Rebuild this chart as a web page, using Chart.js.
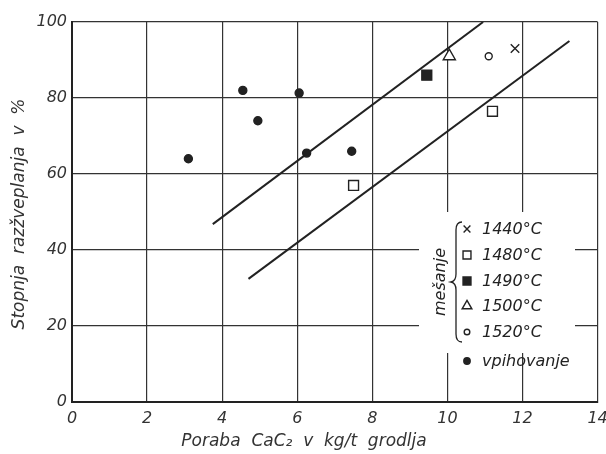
<!DOCTYPE html>
<html>
<head>
<meta charset="utf-8">
<script src="https://cdn.jsdelivr.net/npm/chart.js@4"></script>
<style>
  body { margin: 0; background: #fff; }
  #wrap { width: 606px; height: 454px; }
</style>
</head>
<body>
<div id="wrap"><canvas id="myChart" width="606" height="454"></canvas></div>
<script>
// meritve (x = poraba CaC2 kg/t, y = stopnja razzveplanja %)
var x1440 = [11.8];
var y1440 = [93];
var x1480 = [7.5, 11.2];
var y1480 = [57, 76.5];
var x1490 = [9.45];
var y1490 = [86];
var x1500 = [10.05];
var y1500 = [91];
var x1520 = [11.1];
var y1520 = [91];
var xVpih = [3.1, 4.55, 4.95, 6.05, 6.25, 7.45];
var yVpih = [64, 82, 74, 81.3, 65.5, 66];
// mejni premici
var xZgornja = [3.75, 10.95];
var yZgornja = [46.8, 100];
var xSpodnja = [4.7, 13.25];
var ySpodnja = [32.4, 95];

var xTicks = [0, 2, 4, 6, 8, 10, 12, 14];
var yTicks = [0, 20, 40, 60, 80, 100];

var legendaOznake = ['1440°C', '1480°C', '1490°C', '1500°C', '1520°C', 'vpihovanje'];

var ink = '#222';
var druzina = '"DejaVu Sans", sans-serif';
var pisava = 'italic 16px ' + druzina;
var pisavaNaslov = 'italic 17px ' + druzina;

function tocke(xs, ys) {
    var out = [];
    for (var i = 0; i < xs.length; i++) out.push({ x: xs[i], y: ys[i] });
    return out;
}

var sloge = [
    { style: 'crossRot', radius: 6, fill: false },
    { style: 'rect', radius: 7, fill: false },
    { style: 'rect', radius: 7, fill: true },
    { style: 'triangle', radius: 7, fill: false },
    { style: 'circle', radius: 3.5, fill: false },
    { style: 'circle', radius: 4, fill: true }
];

function tockovni(label, xs, ys, s) {
    return {
        label: label,
        data: tocke(xs, ys),
        pointStyle: s.style,
        pointRadius: s.radius,
        pointBorderWidth: 1.4,
        pointBorderColor: ink,
        pointBackgroundColor: s.fill ? ink : '#fff',
        showLine: false
    };
}

function premica(xs, ys) {
    return {
        data: tocke(xs, ys),
        showLine: true,
        borderColor: ink,
        borderWidth: 2,
        pointRadius: 0
    };
}

var legenda = {
    id: 'legenda',
    afterDraw: function(chart) {
        var ctx = chart.ctx;
        ctx.save();
        ctx.fillStyle = '#fff';
        ctx.fillRect(419, 212, 156, 141);
        ctx.fillRect(456, 352, 66, 24);

        var vrstice = [229, 255, 281, 306, 332, 361];
        for (var i = 0; i < vrstice.length; i++) {
            var s = sloge[i];
            ctx.strokeStyle = ink;
            ctx.fillStyle = s.fill ? ink : '#fff';
            ctx.lineWidth = 1.4;
            Chart.helpers.drawPoint(ctx, { pointStyle: s.style, radius: s.radius * 0.8, borderWidth: 1.4 }, 467, vrstice[i]);
            ctx.fillStyle = ink;
            ctx.font = pisava;
            ctx.textAlign = 'left';
            ctx.textBaseline = 'middle';
            ctx.fillText(legendaOznake[i], 482, vrstice[i] + 1);
        }

        // oklepaj
        ctx.strokeStyle = ink;
        ctx.lineWidth = 1.3;
        ctx.beginPath();
        ctx.moveTo(462, 222);
        ctx.quadraticCurveTo(456, 222, 456, 230);
        ctx.lineTo(456, 274);
        ctx.quadraticCurveTo(456, 281, 451, 282);
        ctx.quadraticCurveTo(456, 283, 456, 290);
        ctx.lineTo(456, 334);
        ctx.quadraticCurveTo(456, 342, 462, 342);
        ctx.stroke();

        ctx.save();
        ctx.translate(441, 282);
        ctx.rotate(-Math.PI / 2);
        ctx.fillStyle = ink;
        ctx.font = pisava;
        ctx.textAlign = 'center';
        ctx.textBaseline = 'middle';
        ctx.fillText('mešanje', 0, 0);
        ctx.restore();

        // naslova osi
        ctx.fillStyle = '#333';
        ctx.font = pisavaNaslov;
        ctx.textAlign = 'center';
        ctx.textBaseline = 'middle';
        ctx.fillText('Poraba  CaC₂  v  kg/t  grodlja', 304, 442);

        ctx.translate(20, 214);
        ctx.rotate(-Math.PI / 2);
        ctx.fillText('Stopnja  razžveplanja  v  %', 0, 0);
        ctx.restore();
    }
};

var ctx = document.getElementById('myChart').getContext('2d');
var chart = new Chart(ctx, {
    type: 'scatter',
    data: {
        datasets: [
            tockovni('1440°C', x1440, y1440, sloge[0]),
            tockovni('1480°C', x1480, y1480, sloge[1]),
            tockovni('1490°C', x1490, y1490, sloge[2]),
            tockovni('1500°C', x1500, y1500, sloge[3]),
            tockovni('1520°C', x1520, y1520, sloge[4]),
            tockovni('vpihovanje', xVpih, yVpih, sloge[5]),
            premica(xZgornja, yZgornja),
            premica(xSpodnja, ySpodnja)
        ]
    },
    options: {
        responsive: false,
        animation: false,
        layout: { padding: { top: 22, right: 7, left: 0, bottom: 0 } },
        plugins: { legend: { display: false }, tooltip: { enabled: false } },
        scales: {
            x: {
                type: 'linear', min: 0, max: 14,
                afterBuildTicks: function(s) { s.ticks = xTicks.map(function(v) { return { value: v }; }); },
                afterFit: function(s) { s.height = 52; s.paddingRight = 0; s.paddingLeft = 0; },
                grid: { color: '#333', lineWidth: 1.2, drawTicks: false },
                border: { color: '#222', width: 2 },
                ticks: { color: '#333', padding: 7, font: { family: druzina, size: 16, style: 'italic' } }
            },
            y: {
                type: 'linear', min: 0, max: 100,
                afterBuildTicks: function(s) { s.ticks = yTicks.map(function(v) { return { value: v }; }); },
                afterFit: function(s) { s.width = 72; s.paddingTop = 0; s.paddingBottom = 0; },
                grid: { color: '#333', lineWidth: 1.2, drawTicks: false },
                border: { color: '#222', width: 2 },
                ticks: { color: '#333', padding: 5, font: { family: druzina, size: 16, style: 'italic' } }
            }
        }
    },
    plugins: [legenda]
});
</script>
</body>
</html>
